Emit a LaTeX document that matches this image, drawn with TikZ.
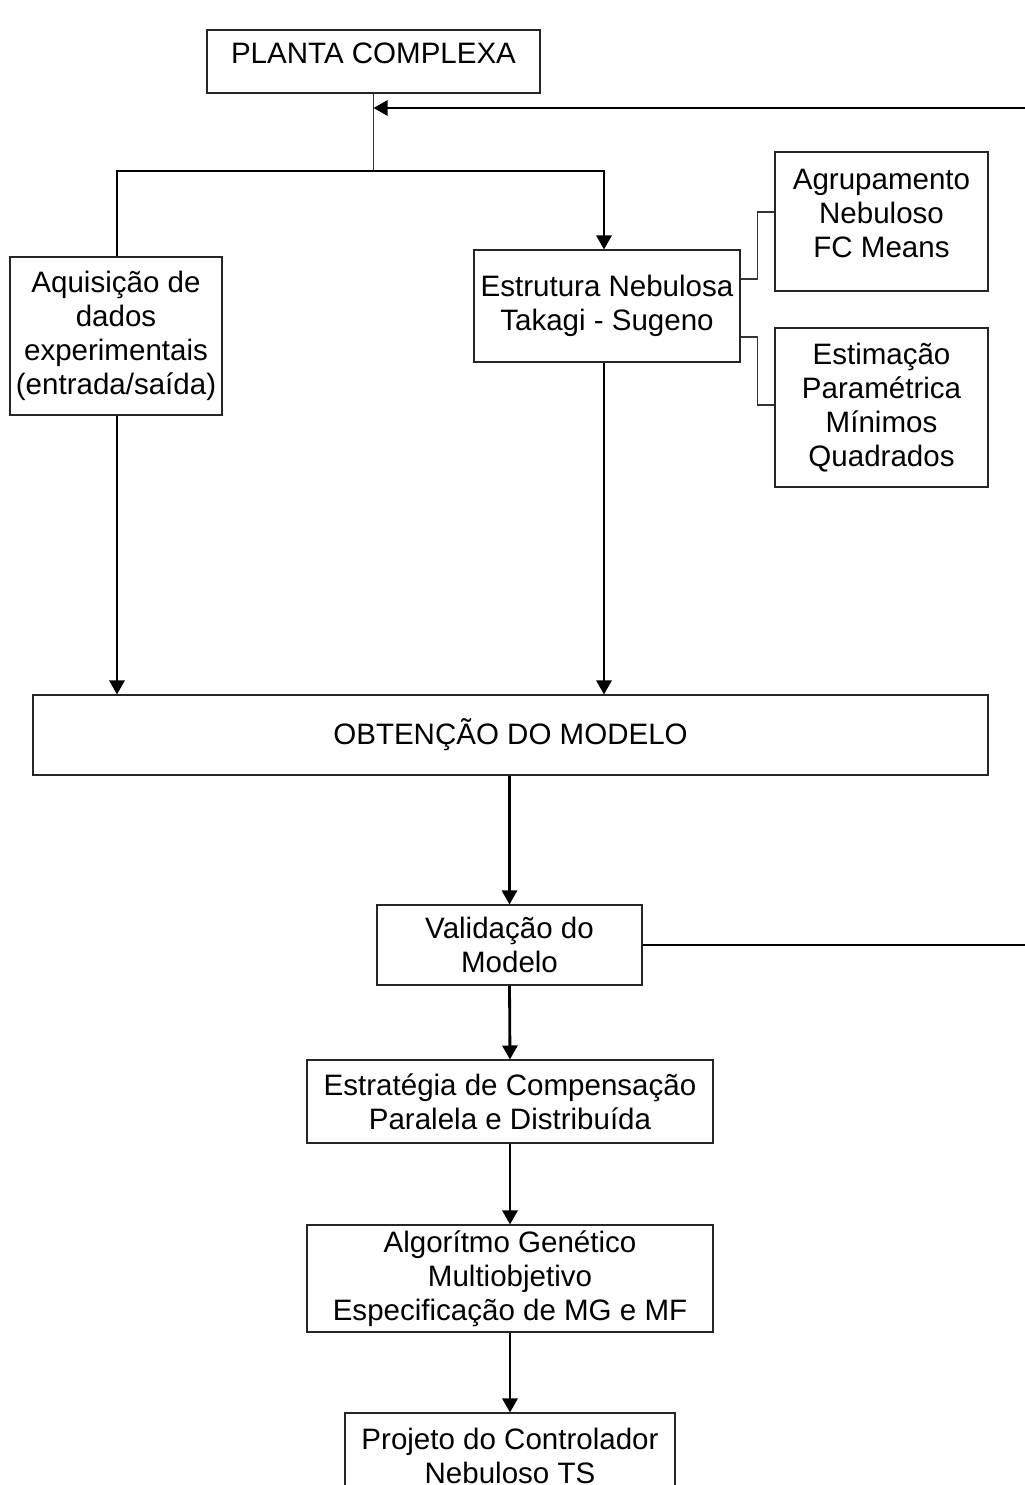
\documentclass[tikz,border=0pt]{standalone}
\usepackage{fontspec}
\setmainfont{Liberation Sans}
\usetikzlibrary{arrows.meta}

\begin{document}
\begin{tikzpicture}[
        bloco/.style={draw=black!85, line width=0.6pt, align=center, inner sep=2pt,
            font=\fontsize{16.8}{19.3}\selectfont},
        seta/.style={line width=1.6pt, -{Triangle[length=0.28cm,width=0.3cm]}},
        linha/.style={line width=1.6pt},
        fina/.style={draw=black!80, line width=0.6pt}
    ]
        \clip (0,0) rectangle (20.5,-29.7);
        \fill[white] (0,0) rectangle (20.5,-29.7);

        \node[bloco, minimum width=6.66cm, minimum height=1.26cm, text depth=0.32cm] (planta) at (7.47,-1.23) {PLANTA COMPLEXA};

        \node[bloco, minimum width=4.24cm, minimum height=3.16cm] (aquis) at (2.32,-6.72) {Aquisição de\\dados\\experimentais\\(entrada/saída)};
        \node[bloco, minimum width=5.32cm, minimum height=2.24cm] (estrut) at (12.14,-6.12) {Estrutura Nebulosa\\Takagi - Sugeno};
        \node[bloco, minimum width=4.26cm, minimum height=2.78cm, text depth=0.34cm] (agrup) at (17.63,-4.43) {Agrupamento\\Nebuloso\\FC Means};
        \node[bloco, minimum width=4.26cm, minimum height=3.18cm] (estim) at (17.63,-8.15) {Estimação\\Paramétrica\\Mínimos\\Quadrados};

        \node[bloco, minimum width=19.1cm, minimum height=1.6cm] (obten) at (10.21,-14.7) {OBTENÇÃO DO MODELO};
        \node[bloco, minimum width=5.3cm, minimum height=1.6cm] (valid) at (10.19,-18.9) {Validação do\\Modelo};
        \node[bloco, minimum width=8.12cm, minimum height=1.66cm] (estrat) at (10.2,-22.03) {Estratégia de Compensação\\Paralela e Distribuída};
        \node[bloco, minimum width=8.12cm, minimum height=2.14cm] (algor) at (10.2,-25.57) {Algorítmo Genético\\Multiobjetivo\\Especificação de MG e MF};
        \node[bloco, minimum width=6.6cm, minimum height=1.7cm] (projeto) at (10.2,-29.11) {Projeto do Controlador\\Nebuloso TS};

        \coordinate (junta) at (7.47,-3.42);
        \coordinate (jesq) at (2.34,-3.42);
        \coordinate (jdir) at (12.08,-3.42);
        \coordinate (retorno) at (20.5,-2.16);
        \coordinate (saida) at (20.5,-18.9);

        \draw[fina] (planta.south) -- (junta);
        \draw[seta] (retorno) -- (junta |- retorno);
        \draw[seta] (jesq |- aquis.north) -- (jesq) -- (jdir) -- (jdir |- estrut.north);

        \draw[fina] ([yshift=0.54cm]estrut.east) -- ++(0.34,0) |- ([yshift=0.19cm]agrup.west);
        \draw[fina] ([yshift=-0.62cm]estrut.east) -- ++(0.34,0) |- ([yshift=0.05cm]estim.west);

        \draw[seta] (aquis.south -| jesq) -- (jesq |- obten.north);
        \draw[seta] (estrut.south -| jdir) -- (jdir |- obten.north);

        \draw[seta] (valid.north |- obten.south) -- (valid.north);
        \draw[linha] (valid.east) -- (saida);
        \draw[seta] (valid.south) -- (estrat.north);
        \draw[seta] (estrat.south) -- (algor.north);
        \draw[seta] (algor.south) -- (projeto.north);

    \end{tikzpicture}
\end{document}
